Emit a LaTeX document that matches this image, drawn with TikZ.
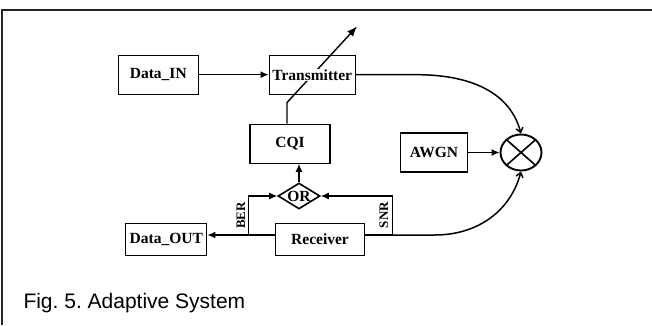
\documentclass[tikz,border=0pt]{standalone}
\usepackage{fontspec}
\setmainfont{Liberation Serif}
\newfontfamily\capfont{Liberation Sans}
\usetikzlibrary{positioning,arrows.meta,backgrounds,shapes.geometric}
\frenchspacing

\begin{document}
\begin{tikzpicture}[x=1pt,y=1pt,
  blk/.style={rectangle,draw,line width=1.3pt,inner sep=0pt,font=\bfseries\fontsize{15.5}{17}\selectfont},
  lbl/.style={rotate=90,inner sep=0pt,font=\bfseries\fontsize{13}{14}\selectfont},
  ar/.style={-{Latex[length=8pt,width=7pt]},line width=1.2pt},
  op/.style={-{Straight Barb[length=4.5pt,width=7pt]},line width=1.5pt},
  var/.style={-{Latex[length=10pt,width=8pt]},line width=1.4pt}]
\useasboundingbox (0,0) rectangle (652,325);
% ---- frame ----
\draw[line width=1.8pt,black!85] (2,0) -- (2,315) -- (652,315);
% ---- blocks ----
\node[blk,minimum width=80,minimum height=39] (din) at (158.3,250.3) {Data\_IN};
\node[blk,minimum width=86,minimum height=39] (tx) at (312.2,250.3) {\setlength{\fboxsep}{0.5pt}\colorbox{white}{Transmitter}};
\node[blk,minimum width=80,minimum height=39] (cqi) at (290,181.3) {CQI};
\node[blk,minimum width=67,minimum height=39] (awgn) at (434,172.5) {AWGN};
\node[ellipse,draw,line width=1.9pt,minimum width=41,minimum height=36,inner sep=0pt,
  path picture={\draw[line width=1.6pt] (path picture bounding box.north west) -- (path picture bounding box.south east)
  (path picture bounding box.south west) -- (path picture bounding box.north east);}] (mix) at (521,172.5) {};
\node[blk,diamond,line width=1.6pt,minimum width=42,minimum height=26] (or) at (299,129) {\makebox[0pt]{OR}};
\node[blk,minimum width=81,minimum height=32] (dout) at (166.3,85.7) {Data\_OUT};
\node[blk,minimum width=89,minimum height=32] (rx) at (320,85.7) {Receiver};
\node[lbl] (berl) at (240.8,109.5) {BER};
\node[lbl] (snrl) at (384,110) {SNR};
\node[anchor=base west,inner sep=0pt,font=\capfont\fontsize{21}{23}\selectfont] (cap) at (23.3,16.7) {Fig. 5. Adaptive System};
% ---- connectors ----
\coordinate (ber) at (248.3,90);
\coordinate (snr) at (392.7,90);
\coordinate (tip) at (357,298.5);
\draw[ar] (din) -- (tx);
\draw[ar] (awgn) -- (mix);
\draw[ar] (or.north) -- (or.north |- cqi.south);
\draw[ar] ([yshift=4.3pt]rx.west) -- ([yshift=4.3pt]dout.east);
\draw[ar] (ber) |- (or.west);
\draw[ar] ([yshift=4.3pt]rx.east) -- (snr) |- (or.east);
\draw[op] (tx.east) -- ++(61,0) to[out=0,in=105] (mix.north);
\draw[op] (snr) -- ++(42,0) to[out=0,in=-105] (mix.south);
\begin{scope}[on background layer]
\draw[var] ([xshift=-3pt]cqi.north) -- ++(0,21) -- (tip);
\end{scope}
\end{tikzpicture}
\end{document}
